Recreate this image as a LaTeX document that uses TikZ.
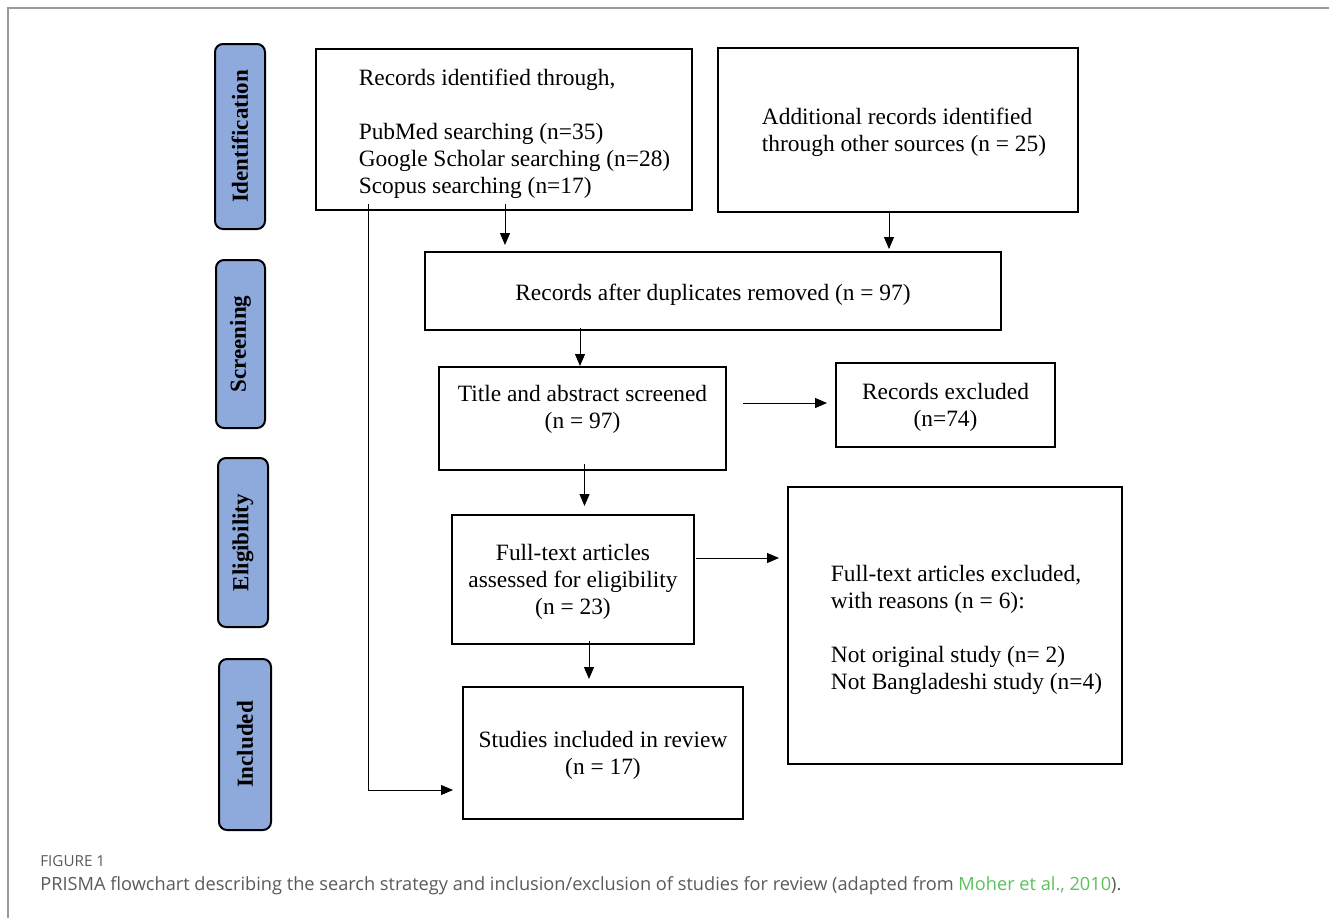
\documentclass[tikz,border=0pt]{standalone}
\usepackage{fontspec}
\setmainfont{Liberation Serif}
\newfontfamily\capfont{Open Sans}
\usetikzlibrary{arrows.meta,calc}
\definecolor{sidefill}{HTML}{8EA9DB}
\definecolor{capgrey}{HTML}{5A5A5A}
\definecolor{capgreen}{HTML}{5CBF5C}
\definecolor{framegrey}{HTML}{9A9A9A}
% lowered text block that keeps its own size
\newcommand\boxtext[3]{\raisebox{-#1}[\height][\depth]{\begin{tabular}{#2}#3\end{tabular}}}
\begin{document}
\begin{tikzpicture}[x=0.5pt,y=-0.5pt,
  box/.style={draw=black,line width=1pt,inner sep=0pt,font=\fontsize{11.7}{13.5}\selectfont,fill=white},
  sidebox/.style={draw=black,line width=1pt,fill=sidefill,rounded corners=4pt,inner sep=0pt},
  sidetext/.style={font=\fontsize{11.5}{13.5}\selectfont\bfseries,rotate=90},
  arr/.style={line width=0.5pt,-{Triangle[length=6pt,width=5pt]}}]
\useasboundingbox (0,0) rectangle (1329,918);
\draw[framegrey,line width=1pt] (8,918) -- (8,8) -- (1329,8);

% side labels
\node[sidebox,minimum width=25pt,minimum height=92.5pt] (s1) at (240,136.5) {};
\node[sidetext] at (s1) {Identification};
\node[sidebox,minimum width=24.5pt,minimum height=84pt] (s2) at (240.5,344) {};
\node[sidetext] at (s2) {Screening};
\node[sidebox,minimum width=25pt,minimum height=84.5pt] (s3) at (243,542.5) {};
\node[sidetext] at (s3) {Eligibility};
\node[sidebox,minimum width=26pt,minimum height=85.5pt] (s4) at (245,744.5) {};
\node[sidetext] at (s4) {Included};

% boxes
\node[box,minimum width=188pt,minimum height=80.5pt] (b1) at (504,129.5)
  {\boxtext{2.5pt}{@{\hspace{10.5pt}}l@{}}{Records identified through,\\ \\PubMed searching (n=35)\\Google Scholar searching (n=28)\\Scopus searching (n=17)}};
\node[box,minimum width=180pt,minimum height=82pt] (b2) at (898,130)
  {\boxtext{1.5pt}{@{\hspace{6pt}}l@{}}{Additional records identified\\through other sources (n = 25)}};
\node[box,minimum width=288pt,minimum height=39pt] (b3) at (713,291)
  {\boxtext{2pt}{@{}c@{}}{Records after duplicates removed (n = 97)}};
\node[box,minimum width=143.5pt,minimum height=51.5pt] (b4) at (582.5,418.5)
  {\boxtext{2.5pt}{@{}c@{}}{Title and abstract screened\\(n = 97)\\ \mbox{}}};
\node[box,minimum width=109.5pt,minimum height=42pt] (b5) at (945.5,405)
  {\boxtext{1.5pt}{@{}c@{}}{Records excluded\\(n=74)}};
\node[box,minimum width=121pt,minimum height=64.5pt] (b6) at (573,579.5)
  {\boxtext{1.5pt}{@{}c@{}}{Full-text articles\\assessed for eligibility\\(n = 23)}};
\node[box,minimum width=167pt,minimum height=138.5pt] (b7) at (955,625.5)
  {\boxtext{2.5pt}{@{\hspace{11.5pt}}l@{}}{Full-text articles excluded,\\with reasons (n = 6):\\ \\Not original study (n= 2)\\Not Bangladeshi study (n=4)}};
\node[box,minimum width=140pt,minimum height=66pt] (b8) at (603,753)
  {\boxtext{1.5pt}{@{}c@{}}{Studies included in review\\(n = 17)}};

% connectors
\draw[arr,shorten >=3pt] ([xshift=0.5pt,yshift=3.5pt]b1.south) -- ([xshift=0.5pt]b1.south |- b3.north);
\draw[arr,shorten >=1pt] ([xshift=-4.5pt,yshift=1pt]b2.south) -- ([xshift=-4.5pt]b2.south |- b3.north);
\draw[arr] ([xshift=-1.25pt,yshift=1.5pt]b4.north |- b3.south) -- ([xshift=-1.25pt]b4.north);
\draw[arr,shorten >=4pt,shorten <=8pt] ([yshift=1pt]b4.east |- b5.west) -- ([yshift=1pt]b5.west);
\draw[arr,shorten >=4pt] ([xshift=5.75pt,yshift=3.5pt]b4.south -| b6.north) -- ([xshift=5.75pt]b6.north);
\draw[arr,shorten >=4pt] ([yshift=10.75pt,xshift=0.5pt]b6.east) -- ([yshift=10.75pt]b6.east -| b7.west);
\draw[arr,shorten >=3.5pt] ([xshift=8pt,yshift=2pt]b6.south) -- ([xshift=8pt]b6.south |- b8.north);
\draw[arr,shorten >=4.5pt] ([xshift=26.5pt,yshift=3.5pt]b1.south west) |- ([yshift=-18.5pt]b8.west);

% caption
\node[anchor=base west,inner sep=0pt,text=capgrey,font=\capfont\fontsize{7.6}{8}\selectfont] (fig) at (40,866) {FIGURE 1};
\node[anchor=base west,inner sep=0pt,text=capgrey,font=\capfont\fontsize{9.1}{10}\selectfont] (cap) at (40,890)
  {PRISMA flowchart describing the search strategy and inclusion/exclusion of studies for review (adapted from \textcolor{capgreen}{Moher et al., 2010}).};
\end{tikzpicture}
\end{document}
